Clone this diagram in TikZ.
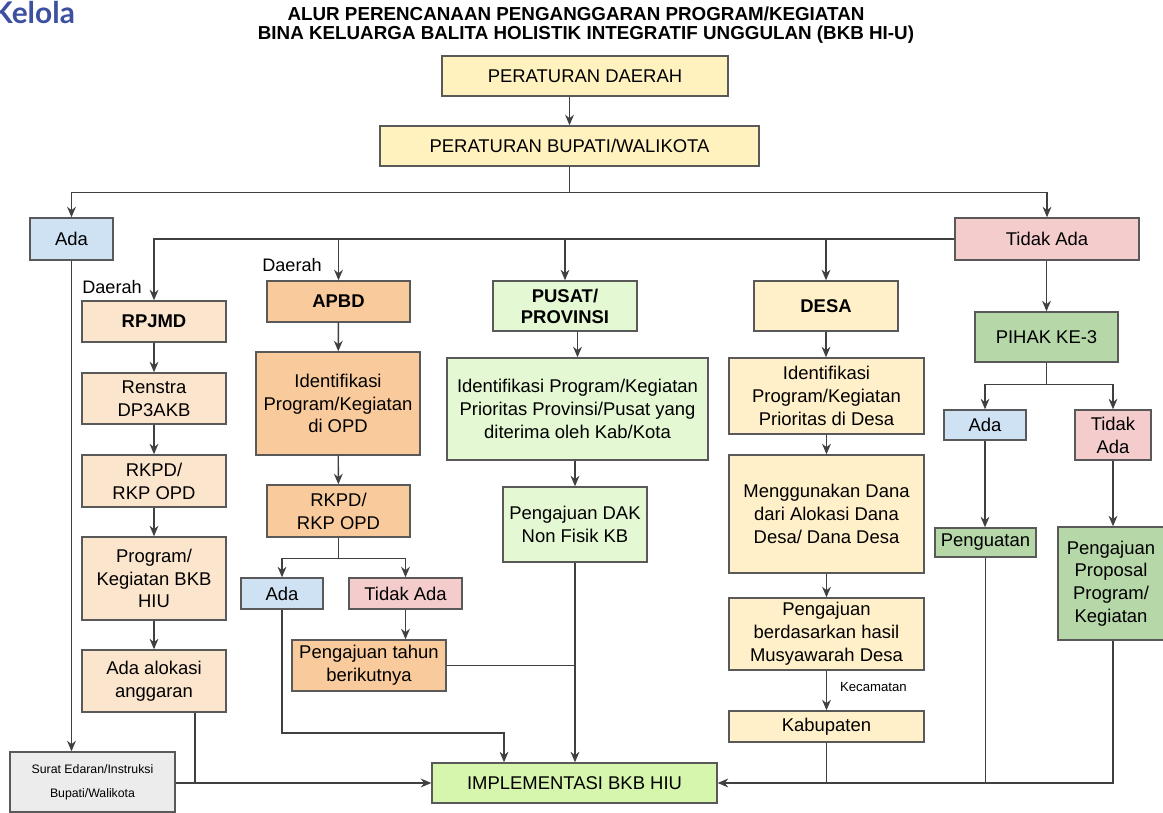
\documentclass[tikz,border=0pt]{standalone}
\usepackage{fontspec}
\setmainfont{Liberation Sans}
\newfontfamily\logofont{Lato}
\usetikzlibrary{arrows.meta,positioning}

\definecolor{garis}{HTML}{595959}
\definecolor{panah}{HTML}{404040}
\definecolor{kuning}{HTML}{FFF2BF}
\definecolor{krem}{HTML}{FFF0C9}
\definecolor{persik}{HTML}{FCE5CD}
\definecolor{jingga}{HTML}{F9CB9C}
\definecolor{biru}{HTML}{CFE2F3}
\definecolor{merah}{HTML}{F4CCCC}
\definecolor{hijau}{HTML}{B6D7A8}
\definecolor{hijaumuda}{HTML}{E4F8D3}
\definecolor{hijauterang}{HTML}{D6F5AD}
\definecolor{abu}{HTML}{ECECEC}
\definecolor{logobiru}{HTML}{3D50A0}

\tikzset{
  box/.style={draw=garis, line width=0.8pt, inner sep=1pt, align=center,
    font=\fontsize{10.5}{13}\selectfont},
  sz/.style 2 args={minimum width=#1cm, minimum height=#2cm},
  arr/.style={-{Stealth[length=6pt,width=5pt]}, draw=panah, line width=0.8pt},
  ln/.style={draw=panah, line width=0.8pt},
  lbl/.style={inner sep=0pt, font=\fontsize{10.3}{12}\selectfont},
  tebal/.style={font=\bfseries\fontsize{10.5}{13}\selectfont}
}

\begin{document}
\begin{tikzpicture}[x=0.02cm, y=-0.02cm]
  \fill[white] (0,0) rectangle (1163,813);
  \useasboundingbox (0,0) rectangle (1163,813);

  % judul
  \node[anchor=west, inner sep=0pt, text=logobiru, font=\logofont\bfseries\fontsize{17}{19}\selectfont] (logo) at (-8,13) {Kelola};
  \node[inner sep=0pt, font=\bfseries\fontsize{10.7}{12}\selectfont] (judul1) at (576,14) {ALUR PERENCANAAN PENGANGGARAN PROGRAM/KEGIATAN};
  \node[inner sep=0pt, font=\bfseries\fontsize{10.7}{12}\selectfont] (judul2) at (586,35) {BINA KELUARGA BALITA HOLISTIK INTEGRATIF UNGGULAN (BKB HI-U)};

  % atas
  \node[box, fill=kuning, sz={5.72}{0.8}] (perda) at (585,76) {PERATURAN DAERAH};
  \node[box, fill=kuning, sz={7.58}{0.8}] (perbup) at (569.5,146) {PERATURAN BUPATI/WALIKOTA};
  \node[box, fill=biru, sz={1.66}{0.84}] (ada1) at (71.5,239) {Ada};
  \node[box, fill=merah, sz={3.68}{0.84}] (tidak1) at (1047,239) {Tidak Ada};

  % kolom RPJMD
  \node[lbl] (daerah1) at (112,287) {Daerah};
  \node[box, tebal, fill=persik, sz={2.88}{0.82}] (rpjmd) at (154,321.5) {RPJMD};
  \node[box, fill=persik, sz={2.88}{1.02}] (renstra) at (154,398.5) {Renstra\\DP3AKB};
  \node[box, fill=persik, sz={2.88}{1.04}] (rkpd1) at (154,481) {RKPD/\\RKP OPD};
  \node[box, fill=persik, sz={2.88}{1.66}] (progbkb) at (154,578.5) {Program/\\Kegiatan BKB\\HIU};
  \node[box, fill=persik, sz={2.88}{1.24}] (alokasi) at (154,681) {Ada alokasi\\anggaran};
  \node[box, fill=abu, sz={3.3}{1.2}, font=\fontsize{7}{13.6}\selectfont] (surat) at (92.5,782) {Surat Edaran/Instruksi\\Bupati/Walikota};

  % kolom APBD
  \node[lbl] (daerah2) at (292,265) {Daerah};
  \node[box, tebal, fill=jingga, sz={2.86}{0.82}] (apbd) at (338.5,301.5) {APBD};
  \node[box, fill=jingga, sz={3.28}{2.06}] (idopd) at (338,403.5) {Identifikasi\\Program/Kegiatan\\di OPD};
  \node[box, fill=jingga, sz={2.86}{1.04}] (rkpd2) at (338.5,511) {RKPD/\\RKP OPD};
  \node[box, fill=biru, sz={1.64}{0.62}] (ada2) at (282,593.5) {Ada};
  \node[box, fill=merah, sz={2.26}{0.62}] (tidak2) at (405.5,593.5) {Tidak Ada};
  \node[box, fill=jingga, sz={3.08}{1.02}] (tahun) at (369,665.5) {Pengajuan tahun\\berikutnya};

  % kolom pusat
  \node[box, fill=hijaumuda, sz={2.88}{1.0}, font=\bfseries\fontsize{10.5}{12}\selectfont] (pusat) at (565,306) {PUSAT/\\PROVINSI};
  \node[box, fill=hijaumuda, sz={5.22}{2.04}] (idpusat) at (577.5,409) {Identifikasi Program/Kegiatan\\Prioritas Provinsi/Pusat yang\\diterima oleh Kab/Kota};
  \node[box, fill=hijaumuda, sz={2.88}{1.5}] (dak) at (575,524.5) {Pengajuan DAK\\Non Fisik KB};
  \node[box, fill=hijauterang, sz={5.7}{0.8}] (impl) at (574.5,783) {IMPLEMENTASI BKB HIU};

  % kolom desa
  \node[box, tebal, fill=krem, sz={2.88}{1.0}] (desa) at (826,306) {DESA};
  \node[box, fill=krem, sz={3.9}{1.52}] (iddesa) at (826.5,396) {Identifikasi\\Program/Kegiatan\\Prioritas di Desa};
  \node[box, fill=krem, sz={3.9}{2.36}] (dana) at (826.5,514) {Menggunakan Dana\\dari Alokasi Dana\\Desa/ Dana Desa};
  \node[box, fill=krem, sz={3.9}{1.44}] (musy) at (826.5,634) {Pengajuan\\berdasarkan hasil\\Musyawarah Desa};
  \node[box, fill=krem, sz={3.9}{0.62}] (kab) at (826.5,726.5) {Kabupaten};

  % kolom pihak ke-3
  \node[box, fill=hijau, sz={2.86}{1.0}] (pihak) at (1046.5,337) {PIHAK KE-3};
  \node[box, fill=biru, sz={1.64}{0.6}] (ada3) at (985,425) {Ada};
  \node[box, fill=merah, sz={1.52}{1.0}] (tidak3) at (1113,435) {Tidak\\Ada};
  \node[box, fill=hijau, sz={2.02}{0.58}] (penguatan) at (985.5,542.5) {Penguatan};
  \node[box, fill=hijau, sz={2.12}{2.26}] (proposal) at (1111,583.5) {Pengajuan\\Proposal\\Program/\\Kegiatan};

  % panah atas
  \draw[arr] (perbup.north |- perda.south) -- (perbup.north);
  \draw[ln] (perbup.south) -- ++(0,26) coordinate (cabang1);
  \draw[arr] (cabang1) -| (ada1.north);
  \draw[arr] (cabang1) -| (tidak1.north);

  % ada -> surat edaran -> implementasi
  \draw[arr] (ada1.south) -- (ada1.south |- surat.north);
  \draw[arr] (impl.west -| surat.east) -- (impl.west);
  \draw[ln] ([xshift=0.82cm]alokasi.south) -- ([xshift=0.82cm]alokasi.south |- impl.west);

  % tidak ada -> empat kolom
  \draw[arr] (tidak1.west) -| (rpjmd.north);
  \draw[arr] (tidak1.west -| apbd.north) -- (apbd.north);
  \draw[arr] (tidak1.west -| pusat.north) -- (pusat.north);
  \draw[arr] (tidak1.west -| desa.north) -- (desa.north);

  \draw[arr] (rpjmd) -- (renstra);
  \draw[arr] (renstra) -- (rkpd1);
  \draw[arr] (rkpd1) -- (progbkb);
  \draw[arr] (progbkb) -- (alokasi);

  \draw[arr] (apbd) -- (idopd);
  \draw[arr] (idopd) -- (rkpd2);
  \draw[ln] (rkpd2.south) -- ++(0,21) coordinate (cabang2);
  \draw[arr] (cabang2) -| (ada2.north);
  \draw[arr] (cabang2) -| (tidak2.north);
  \draw[arr] (tidak2.south) -- (tidak2.south |- tahun.north);
  \draw[ln] (tahun.east) -- (tahun.east -| dak.south);
  \draw[arr] (ada2.south) -- ++(0,123.5) -| ([xshift=-1.41cm]impl.north);

  \draw[arr] (idpusat.north |- pusat.south) -- (idpusat.north);
  \draw[arr] (idpusat.south -| dak.north) -- (dak.north);
  \draw[arr] (dak.south) -- (dak.south |- impl.north);

  \draw[arr] (desa.south) -- (desa.south |- iddesa.north);
  \draw[arr] (iddesa) -- (dana);
  \draw[arr] (dana) -- (musy);
  \draw[arr] (musy) -- node[right=4pt, font=\fontsize{7.5}{9}\selectfont, pos=0.4] {Kecamatan} (kab);
  \draw[ln] (kab.south) -- (kab.south |- impl.east);

  % pihak ke-3
  \draw[arr] (tidak1.south -| pihak.north) -- (pihak.north);
  \draw[ln] (pihak.south) -- ++(0,22) coordinate (cabang3);
  \draw[arr] (cabang3) -| (ada3.north);
  \draw[arr] (cabang3) -| (tidak3.north);
  \draw[arr] (ada3.south) -- (ada3.south |- penguatan.north);
  \draw[arr] (tidak3.south) -- (tidak3.south |- proposal.north);
  \draw[ln] (penguatan.south) -- (penguatan.south |- impl.east);
  \draw[arr] (tidak3.south |- proposal.south) |- (impl.east);
\end{tikzpicture}
\end{document}
